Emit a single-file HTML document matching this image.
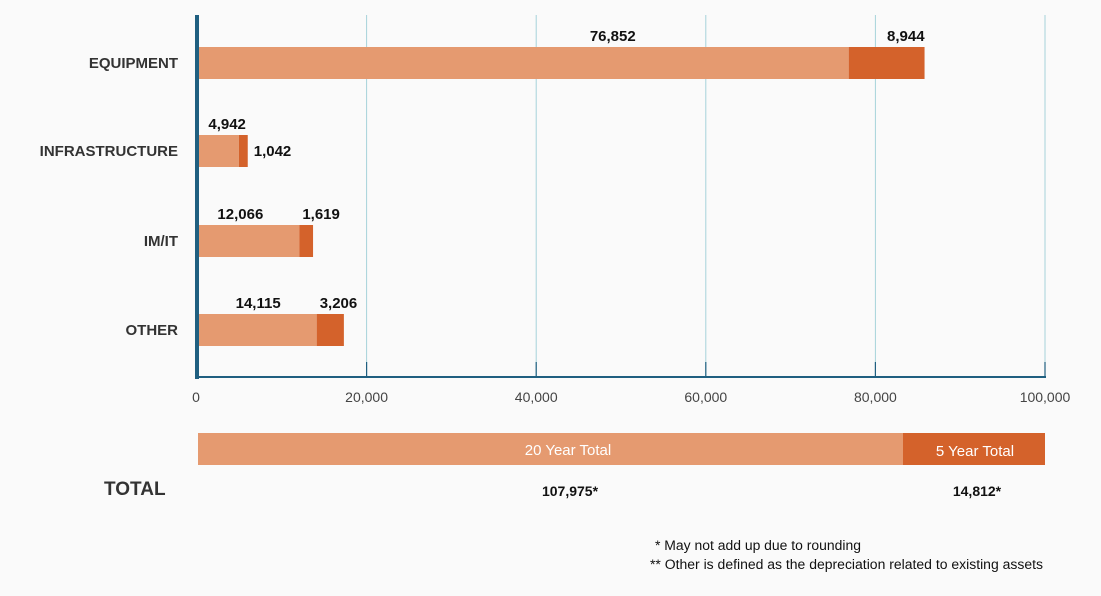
<!DOCTYPE html>
<html><head><meta charset="utf-8"><style>
body{margin:0;background:#fafafa;font-family:"Liberation Sans",Arial,sans-serif}
svg{display:block}
</style></head><body>
<svg id="c" width="1101" height="596"></svg>
<script>
const categories=["EQUIPMENT","INFRASTRUCTURE","IM/IT","OTHER"];
const twentyYear=[76852,4942,12066,14115];
const fiveYear=[8944,1042,1619,3206];
const ticks=[0,20000,40000,60000,80000,100000];
const totalTwenty=107975, totalFive=14812;
const NS="http://www.w3.org/2000/svg";
const svg=document.getElementById('c');
const x0=197,x1=1045,max=100000;
const sx=v=>x0+(x1-x0)*v/max;
const rowY=[47,135,225,314],bh=32;
function el(t,a,p){const e=document.createElementNS(NS,t);for(const k in a)e.setAttribute(k,a[k]);(p||svg).appendChild(e);return e;}
ticks.forEach((t,i)=>{
 if(i>0){const g=el('line',{x1:sx(t),x2:sx(t),y1:15,y2:377,stroke:'#a6d3da','stroke-width':1});
 
 
 const tk=el('line',{x1:sx(t),x2:sx(t),y1:362,y2:377,stroke:'#1f5f80','stroke-width':1.2});
 
 }
 const l=el('text',{x:sx(t)+(i==0?-1:0),y:402,'text-anchor':'middle','font-size':14,fill:'#444'});l.textContent=t.toLocaleString('en-US');
 
 
});
categories.forEach((c,i)=>{
 const y=rowY[i];
 const a=el('rect',{x:x0,y:y,width:sx(twentyYear[i])-x0,height:bh,fill:'#e59a70'});
 
 
 const b=el('rect',{x:sx(twentyYear[i]),y:y,width:sx(twentyYear[i]+fiveYear[i])-sx(twentyYear[i]),height:bh,fill:'#d4622b'});
 
 
 const cl=el('text',{x:178,y:y+21,'text-anchor':'end','font-size':15,'font-weight':'bold',fill:'#333'});cl.textContent=c;
 
 
 const end=sx(twentyYear[i]);
 const l1=el('text',{x:i==0?(end-213):(i==1?end+7:end-36),y:y-6,'text-anchor':'end','font-size':15,'font-weight':'bold',fill:'#111'});
 l1.textContent=twentyYear[i].toLocaleString('en-US');
 
 
 const tot=sx(twentyYear[i]+fiveYear[i]);
 const l2=i==1?el('text',{x:tot+6,y:y+21,'font-size':15,'font-weight':'bold',fill:'#111'}):el('text',{x:i==0?tot:end+3,y:y-6,'text-anchor':i==0?'end':'start','font-size':15,'font-weight':'bold',fill:'#111'});
 l2.textContent=fiveYear[i].toLocaleString('en-US');
 
 
});
const ya=el('rect',{x:195,y:15,width:4,height:364,fill:'#1f5f80'});


const xa=el('rect',{x:195,y:376,width:851,height:2,fill:'#1f5f80'});


const splitX=903;
const t1=el('rect',{x:198,y:433,width:splitX-198,height:32,fill:'#e59a70'});


const t2=el('rect',{x:splitX,y:433,width:1045-splitX,height:32,fill:'#d4622b'});


function txt(s,a,name){const t=el('text',a);t.textContent=s;return t;}
txt('20 Year Total',{x:568,y:455,'text-anchor':'middle','font-size':15,fill:'#fff'},'total-20-year-label');
txt('5 Year Total',{x:975,y:456,'text-anchor':'middle','font-size':15,fill:'#fff'},'total-5-year-label');
txt('TOTAL',{x:104,y:495,'font-size':19,'font-weight':'bold',fill:'#333'},'total-label');
txt(totalTwenty.toLocaleString('en-US')+'*',{x:570,y:496,'text-anchor':'middle','font-size':14,'font-weight':'bold',fill:'#111'},'total-20-year-value');
txt(totalFive.toLocaleString('en-US')+'*',{x:977,y:496,'text-anchor':'middle','font-size':14,'font-weight':'bold',fill:'#111'},'total-5-year-value');
txt('* May not add up due to rounding',{x:655,y:550,'font-size':13.5,fill:'#111',textLength:206,lengthAdjust:'spacingAndGlyphs'},'footnote-rounding');
txt('** Other is defined as the depreciation related to existing assets',{x:650,y:569,'font-size':13.5,fill:'#111',textLength:393,lengthAdjust:'spacingAndGlyphs'},'footnote-other');
</script>
</body></html>
